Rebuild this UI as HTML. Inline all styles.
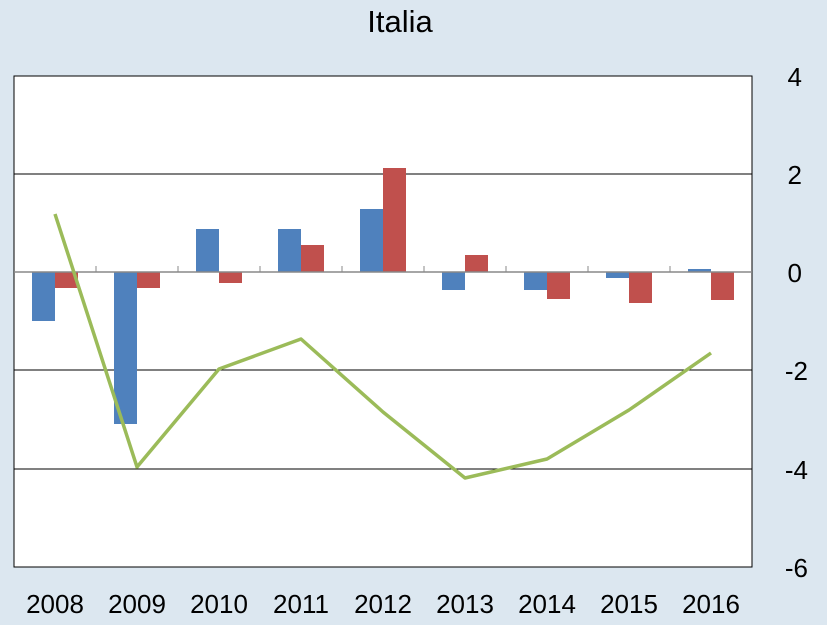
<!DOCTYPE html>
<html><head><meta charset="utf-8"><style>
body{margin:0;background:#dce7f0;}
svg{display:block}
text{font-family:"Liberation Sans",sans-serif;fill:#000}
</style></head><body>
<svg width="827" height="625" viewBox="0 0 827 625">
<rect x="0" y="0" width="827" height="625" fill="#dce7f0"/>
<text x="400" y="32" font-size="31" text-anchor="middle">Italia</text>
<rect x="14" y="76" width="738" height="491" fill="#fff" stroke="#000" stroke-width="1"/>
<g stroke="#000" stroke-width="1">
<line x1="14" y1="174" x2="752" y2="174"/>
<line x1="14" y1="370" x2="752" y2="370"/>
<line x1="14" y1="469" x2="752" y2="469"/>
</g>
<g fill="#4f81bd">
<rect x="32" y="272" width="23" height="49"/>
<rect x="114" y="272" width="23" height="152"/>
<rect x="196" y="229" width="23" height="43"/>
<rect x="278" y="229" width="23" height="43"/>
<rect x="360" y="209" width="23" height="63"/>
<rect x="442" y="272" width="23" height="18"/>
<rect x="524" y="272" width="23" height="18"/>
<rect x="606" y="272" width="23" height="6"/>
<rect x="688" y="269" width="23" height="3"/>
</g>
<g fill="#c0504d">
<rect x="55" y="272" width="23" height="16"/>
<rect x="137" y="272" width="23" height="16"/>
<rect x="219" y="272" width="23" height="11"/>
<rect x="301" y="245" width="23" height="27"/>
<rect x="383" y="168" width="23" height="104"/>
<rect x="465" y="255" width="23" height="17"/>
<rect x="547" y="272" width="23" height="27"/>
<rect x="629" y="272" width="23" height="31"/>
<rect x="711" y="272" width="23" height="28"/>
</g>
<line x1="14" y1="272" x2="752" y2="272" stroke="#888" stroke-width="1.5"/>
<g stroke="#888" stroke-width="1">
<line x1="96" y1="266" x2="96" y2="272"/><line x1="178" y1="266" x2="178" y2="272"/>
<line x1="260" y1="266" x2="260" y2="272"/><line x1="342" y1="266" x2="342" y2="272"/>
<line x1="424" y1="266" x2="424" y2="272"/><line x1="506" y1="266" x2="506" y2="272"/>
<line x1="588" y1="266" x2="588" y2="272"/><line x1="670" y1="266" x2="670" y2="272"/>
</g>
<polyline fill="none" stroke="#9bbb59" stroke-width="3.5" stroke-linejoin="round" points="55,214 137,467 219,369 301,339 383,412 465,478 547,459 629,410 711,353"/>
<g font-size="26" text-anchor="end">
<text x="802" y="86">4</text>
<text x="802" y="184">2</text>
<text x="802" y="282">0</text>
<text x="808" y="380">-2</text>
<text x="808" y="479">-4</text>
<text x="808" y="577">-6</text>
</g>
<g font-size="26" text-anchor="middle">
<text x="55" y="613">2008</text><text x="137" y="613">2009</text><text x="219" y="613">2010</text>
<text x="301" y="613">2011</text><text x="383" y="613">2012</text><text x="465" y="613">2013</text>
<text x="547" y="613">2014</text><text x="629" y="613">2015</text><text x="711" y="613">2016</text>
</g>
</svg>
</body></html>
